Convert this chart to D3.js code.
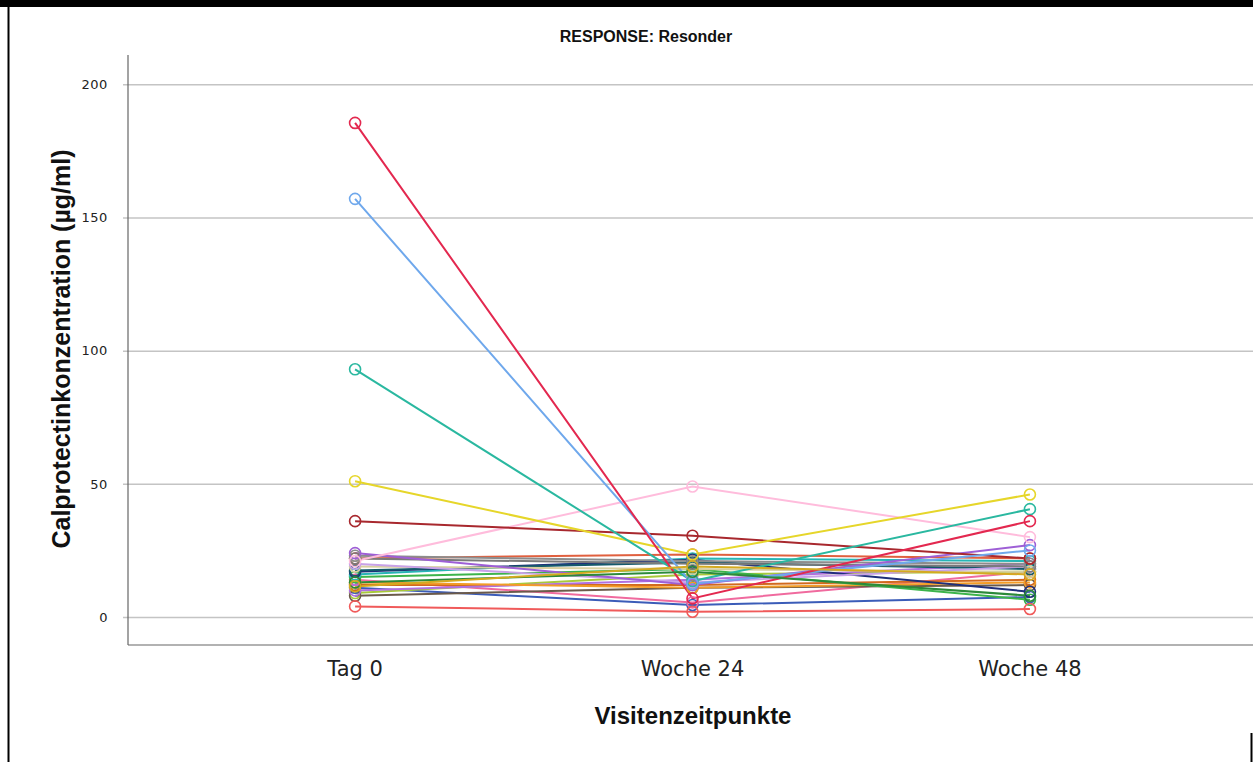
<!DOCTYPE html>
<html>
<head>
    <meta charset="utf-8">
    <title>Calprotectin - Resonder</title>
    <script src="https://d3js.org/d3.v7.min.js"></script>
    <style>
        body { margin: 0; background: #fff; }
        svg { display: block; }
    </style>
</head>
<body>
    <div id="chart"></div>
    <script>
        // visit time points
        const visits = ["Tag 0", "Woche 24", "Woche 48"];

        // one entry per patient (same order in every array)
        const tag0    = [11, 14, 9, 8, 12, 10, 13, 15, 16, 17, 17.5, 19, 20, 22, 22, 23, 24, 4, 21, 36, 51, 93, 157, 185.5, 13, 11.5];
        const woche24 = [4.5, 5.5, 16, 11, 12, 14, 11, 18, 22, 21.5, 20.5, 18, 13, 23.5, 20, 21, 12, 2, 49, 30.5, 23.5, 13.5, 12.5, 7, 17, 19];
        const woche48 = [7.5, 17, 17, 12, 14, 20, 13, 6.5, 21, 9.5, 18, 17, 19, 22, 19, 20, 27, 3, 30, 22, 46, 40.5, 25, 36, 8, 16];
        const colors  = ["#3b5cb8", "#f06a9e", "#a8c93a", "#6b5a4a", "#d2691e", "#b070e0", "#f39c27", "#3cb44b", "#27b5b5", "#1f2f7a",
                         "#155a6b", "#d8cfa0", "#c8a2e8", "#e0603f", "#7a7a7a", "#8c8c8c", "#9e5fd6", "#f05a5a", "#ffbcdc", "#a8282e",
                         "#e6d62a", "#2ab8a0", "#6fa8ec", "#e3284f", "#2c8a3a", "#d4aa20"];

        const yTicks = [0, 50, 100, 150, 200];

        const W = 1253, H = 762;
        const svg = d3.select("#chart").append("svg")
            .attr("width", W)
            .attr("height", H);

        // window frame
        svg.append("rect").attr("x", 0).attr("y", 0).attr("width", W).attr("height", 7).attr("fill", "#000");
        svg.append("rect").attr("x", 7.5).attr("y", 0).attr("width", 2).attr("height", H).attr("fill", "#000");
        svg.append("rect").attr("x", 1250.5).attr("y", 733).attr("width", 2).attr("height", H - 733).attr("fill", "#000");

        const plotLeft = 128, plotRight = 1253, plotTop = 55, plotBottom = 645;

        const x = d3.scalePoint()
            .domain(visits)
            .range([plotLeft, 1257])
            .padding(0.673);

        const y = d3.scaleLinear()
            .domain([-10.5, 211])
            .range([plotBottom, plotTop]);

        // gridlines + y ticks
        const yAxis = svg.append("g")
            .attr("transform", `translate(${plotLeft},0)`)
            .call(d3.axisLeft(y).tickValues(yTicks).tickSize(-(plotRight - plotLeft)).tickSizeOuter(0).tickPadding(16));
        yAxis.select(".domain").remove();
        yAxis.selectAll(".tick line")
            .attr("x1", -5)
            .attr("stroke", "#c4c4c4")
            .attr("stroke-width", 1.5);
        yAxis.selectAll(".tick text")
            .attr("x", -20)
            .style("font", "13px 'DejaVu Sans'")
            .style("letter-spacing", "0.6px")
            .attr("fill", "#222");

        // axis lines
        svg.append("line")
            .attr("x1", plotLeft).attr("x2", plotLeft)
            .attr("y1", plotTop).attr("y2", plotBottom)
            .attr("stroke", "#666").attr("stroke-width", 1.2);
        svg.append("line")
            .attr("x1", plotLeft).attr("x2", plotRight)
            .attr("y1", plotBottom).attr("y2", plotBottom)
            .attr("stroke", "#666").attr("stroke-width", 1.2);

        // x tick labels
        svg.append("g")
            .selectAll("text")
            .data(visits)
            .join("text")
            .attr("x", d => x(d))
            .attr("y", 676)
            .attr("text-anchor", "middle")
            .style("font", "21px 'DejaVu Sans'")
            .attr("fill", "#222")
            .text(d => d);

        // patient lines
        const patients = tag0.map((v, i) => ({
            color: colors[i],
            values: [tag0[i], woche24[i], woche48[i]]
        }));

        const line = d3.line()
            .x((d, i) => x(visits[i]))
            .y(d => y(d));

        const g = svg.append("g");
        patients.forEach(p => {
            g.append("path")
                .attr("d", line(p.values))
                .attr("fill", "none")
                .attr("stroke", p.color)
                .attr("stroke-width", 2);
        });
        patients.forEach(p => {
            g.selectAll(null)
                .data(p.values)
                .join("circle")
                .attr("cx", (d, i) => x(visits[i]))
                .attr("cy", d => y(d))
                .attr("r", 5.5)
                .attr("fill", "none")
                .attr("stroke", p.color)
                .attr("stroke-width", 1.6);
        });

        // titles
        svg.append("text")
            .attr("x", 646)
            .attr("y", 42)
            .attr("text-anchor", "middle")
            .style("font", "bold 16px 'Liberation Sans'")
            .attr("fill", "#111")
            .text("RESPONSE: Resonder");

        svg.append("text")
            .attr("x", 693)
            .attr("y", 724)
            .attr("text-anchor", "middle")
            .style("font", "bold 24px 'Liberation Sans'")
            .attr("fill", "#111")
            .text("Visitenzeitpunkte");

        svg.append("text")
            .attr("transform", `translate(70,349) rotate(-90)`)
            .attr("text-anchor", "middle")
            .style("font", "bold 25px 'Liberation Sans'")
            .attr("fill", "#111")
            .text("Calprotectinkonzentration (µg/ml)");
    </script>
</body>
</html>
